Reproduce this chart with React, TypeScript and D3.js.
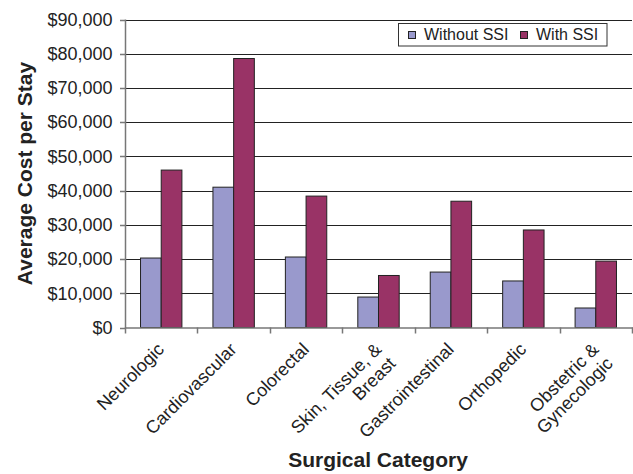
import * as d3 from 'd3';
import React, { useEffect, useRef } from 'react';

const categories = ['Neurologic', 'Cardiovascular', 'Colorectal', 'Skin', 'Gastrointestinal', 'Orthopedic', 'Obstetric'];
const categoryLabels = [
  ['Neurologic'],
  ['Cardiovascular'],
  ['Colorectal'],
  ['Skin, Tissue, &', 'Breast'],
  ['Gastrointestinal'],
  ['Orthopedic'],
  ['Obstetric &', 'Gynecologic'],
];
const seriesNames = ['Without SSI', 'With SSI'];
const withoutSSI = [20300, 41000, 20600, 8900, 16200, 13600, 5700];
const withSSI = [46000, 78600, 38400, 15200, 36900, 28500, 19400];
const yTicks = [0, 10000, 20000, 30000, 40000, 50000, 60000, 70000, 80000, 90000];

const W = 633;
const H = 474;
const colors = ['#9999CC', '#993366'];
const font = '"Liberation Sans", Arial, sans-serif';

const App: React.FC = () => {
  const ref = useRef<SVGSVGElement | null>(null);

  useEffect(() => {
    if (!ref.current) return;
    const svg = d3.select(ref.current);
    svg.selectAll('*').remove();

    const left = 125, right = 632, top = 19.5, bottom = 327.5;

    const x = d3.scaleBand<string>().domain(categories).range([left, right]).padding(0);
    const x1 = d3.scaleBand<string>().domain(seriesNames).range([0, x.bandwidth()]).paddingInner(0).paddingOuter(0.75);
    const y = d3.scaleLinear().domain([0, 90000]).range([bottom, top]);

    // gridlines
    svg.append('g').selectAll('line').data(yTicks.slice(1)).enter().append('line')
      .attr('x1', left).attr('x2', right)
      .attr('y1', d => Math.round(y(d)) + 0.5).attr('y2', d => Math.round(y(d)) + 0.5)
      .attr('stroke', '#222').attr('stroke-width', 1);

    // bars
    const rows = categories.map((c, i) => ({ c, vals: [withoutSSI[i], withSSI[i]] }));
    const groups = svg.append('g').selectAll('g').data(rows).enter().append('g')
      .attr('transform', d => `translate(${x(d.c)},0)`);
    groups.selectAll('rect').data(d => d.vals.map((v, k) => ({ v, k }))).enter().append('rect')
      .attr('x', d => x1(seriesNames[d.k]) ?? 0)
      .attr('width', x1.bandwidth())
      .attr('y', d => y(d.v))
      .attr('height', d => y(0) - y(d.v))
      .attr('fill', d => colors[d.k])
      .attr('stroke', '#222').attr('stroke-width', 1);

    // axes
    const axisColor = '#777';
    svg.append('line').attr('x1', left + 0.5).attr('x2', left + 0.5).attr('y1', top).attr('y2', bottom + 0.5)
      .attr('stroke', axisColor).attr('stroke-width', 1.5);
    svg.append('line').attr('x1', left).attr('x2', right + 1).attr('y1', bottom + 0.5).attr('y2', bottom + 0.5)
      .attr('stroke', axisColor).attr('stroke-width', 1.5);

    const yg = svg.append('g');
    yg.selectAll('line').data(yTicks).enter().append('line')
      .attr('x1', left - 5).attr('x2', left)
      .attr('y1', d => Math.round(y(d)) + 0.5).attr('y2', d => Math.round(y(d)) + 0.5)
      .attr('stroke', axisColor).attr('stroke-width', 1.5);
    yg.selectAll('text').data(yTicks).enter().append('text')
      .attr('x', left - 12.5).attr('y', d => y(d) + 6.3)
      .attr('text-anchor', 'end')
      .attr('font-family', font).attr('font-size', 18).attr('fill', '#222')
      .text(d => d3.format('$,')(d));

    const tickXs = categories.map(c => x(c) ?? 0).concat([right]);
    svg.append('g').selectAll('line').data(tickXs).enter().append('line')
      .attr('x1', d => Math.round(d) + 0.5).attr('x2', d => Math.round(d) + 0.5)
      .attr('y1', bottom).attr('y2', bottom + 6)
      .attr('stroke', axisColor).attr('stroke-width', 1.5);

    // rotated category labels, right-aligned lines
    const lineH = 20;
    categories.forEach((c, i) => {
      const cx = (x(c) ?? 0) + x.bandwidth() / 2;
      const g = svg.append('g').attr('transform', `translate(${cx + 4},${bottom + 23}) rotate(-45)`);
      categoryLabels[i].forEach((s, j) => {
        g.append('text')
          .attr('x', 0).attr('y', j * lineH)
          .attr('text-anchor', 'end')
          .attr('font-family', font).attr('font-size', 18).attr('fill', '#222')
          .text(s);
      });
    });

    // axis titles
    svg.append('text')
      .attr('transform', `translate(32,${(top + bottom) / 2}) rotate(-90)`)
      .attr('text-anchor', 'middle')
      .attr('font-family', font).attr('font-size', 21).attr('font-weight', 'bold').attr('fill', '#222')
      .text('Average Cost per Stay');
    svg.append('text')
      .attr('x', 378).attr('y', 467)
      .attr('text-anchor', 'middle')
      .attr('font-family', font).attr('font-size', 21).attr('font-weight', 'bold').attr('fill', '#222')
      .text('Surgical Category');

    // legend
    const lg = svg.append('g');
    lg.append('rect').attr('x', 398.5).attr('y', 23.5).attr('width', 208.5).attr('height', 22.5)
      .attr('fill', '#fff').attr('stroke', '#333').attr('stroke-width', 1);
    const legendX = [408, 520];
    seriesNames.forEach((s, k) => {
      lg.append('rect').attr('x', legendX[k] + 0.5).attr('y', 31.5).attr('width', 7).attr('height', 7)
        .attr('fill', colors[k]).attr('stroke', '#222').attr('stroke-width', 1);
      lg.append('text').attr('x', legendX[k] + 16).attr('y', 40)
        .attr('font-family', font).attr('font-size', 16).attr('fill', '#222')
        .text(s);
    });
  }, []);

  return (
    <svg ref={ref} width={W} height={H} style={{ position: 'absolute', left: 0, top: 0, background: '#fff' }} />
  );
};

export default App;
